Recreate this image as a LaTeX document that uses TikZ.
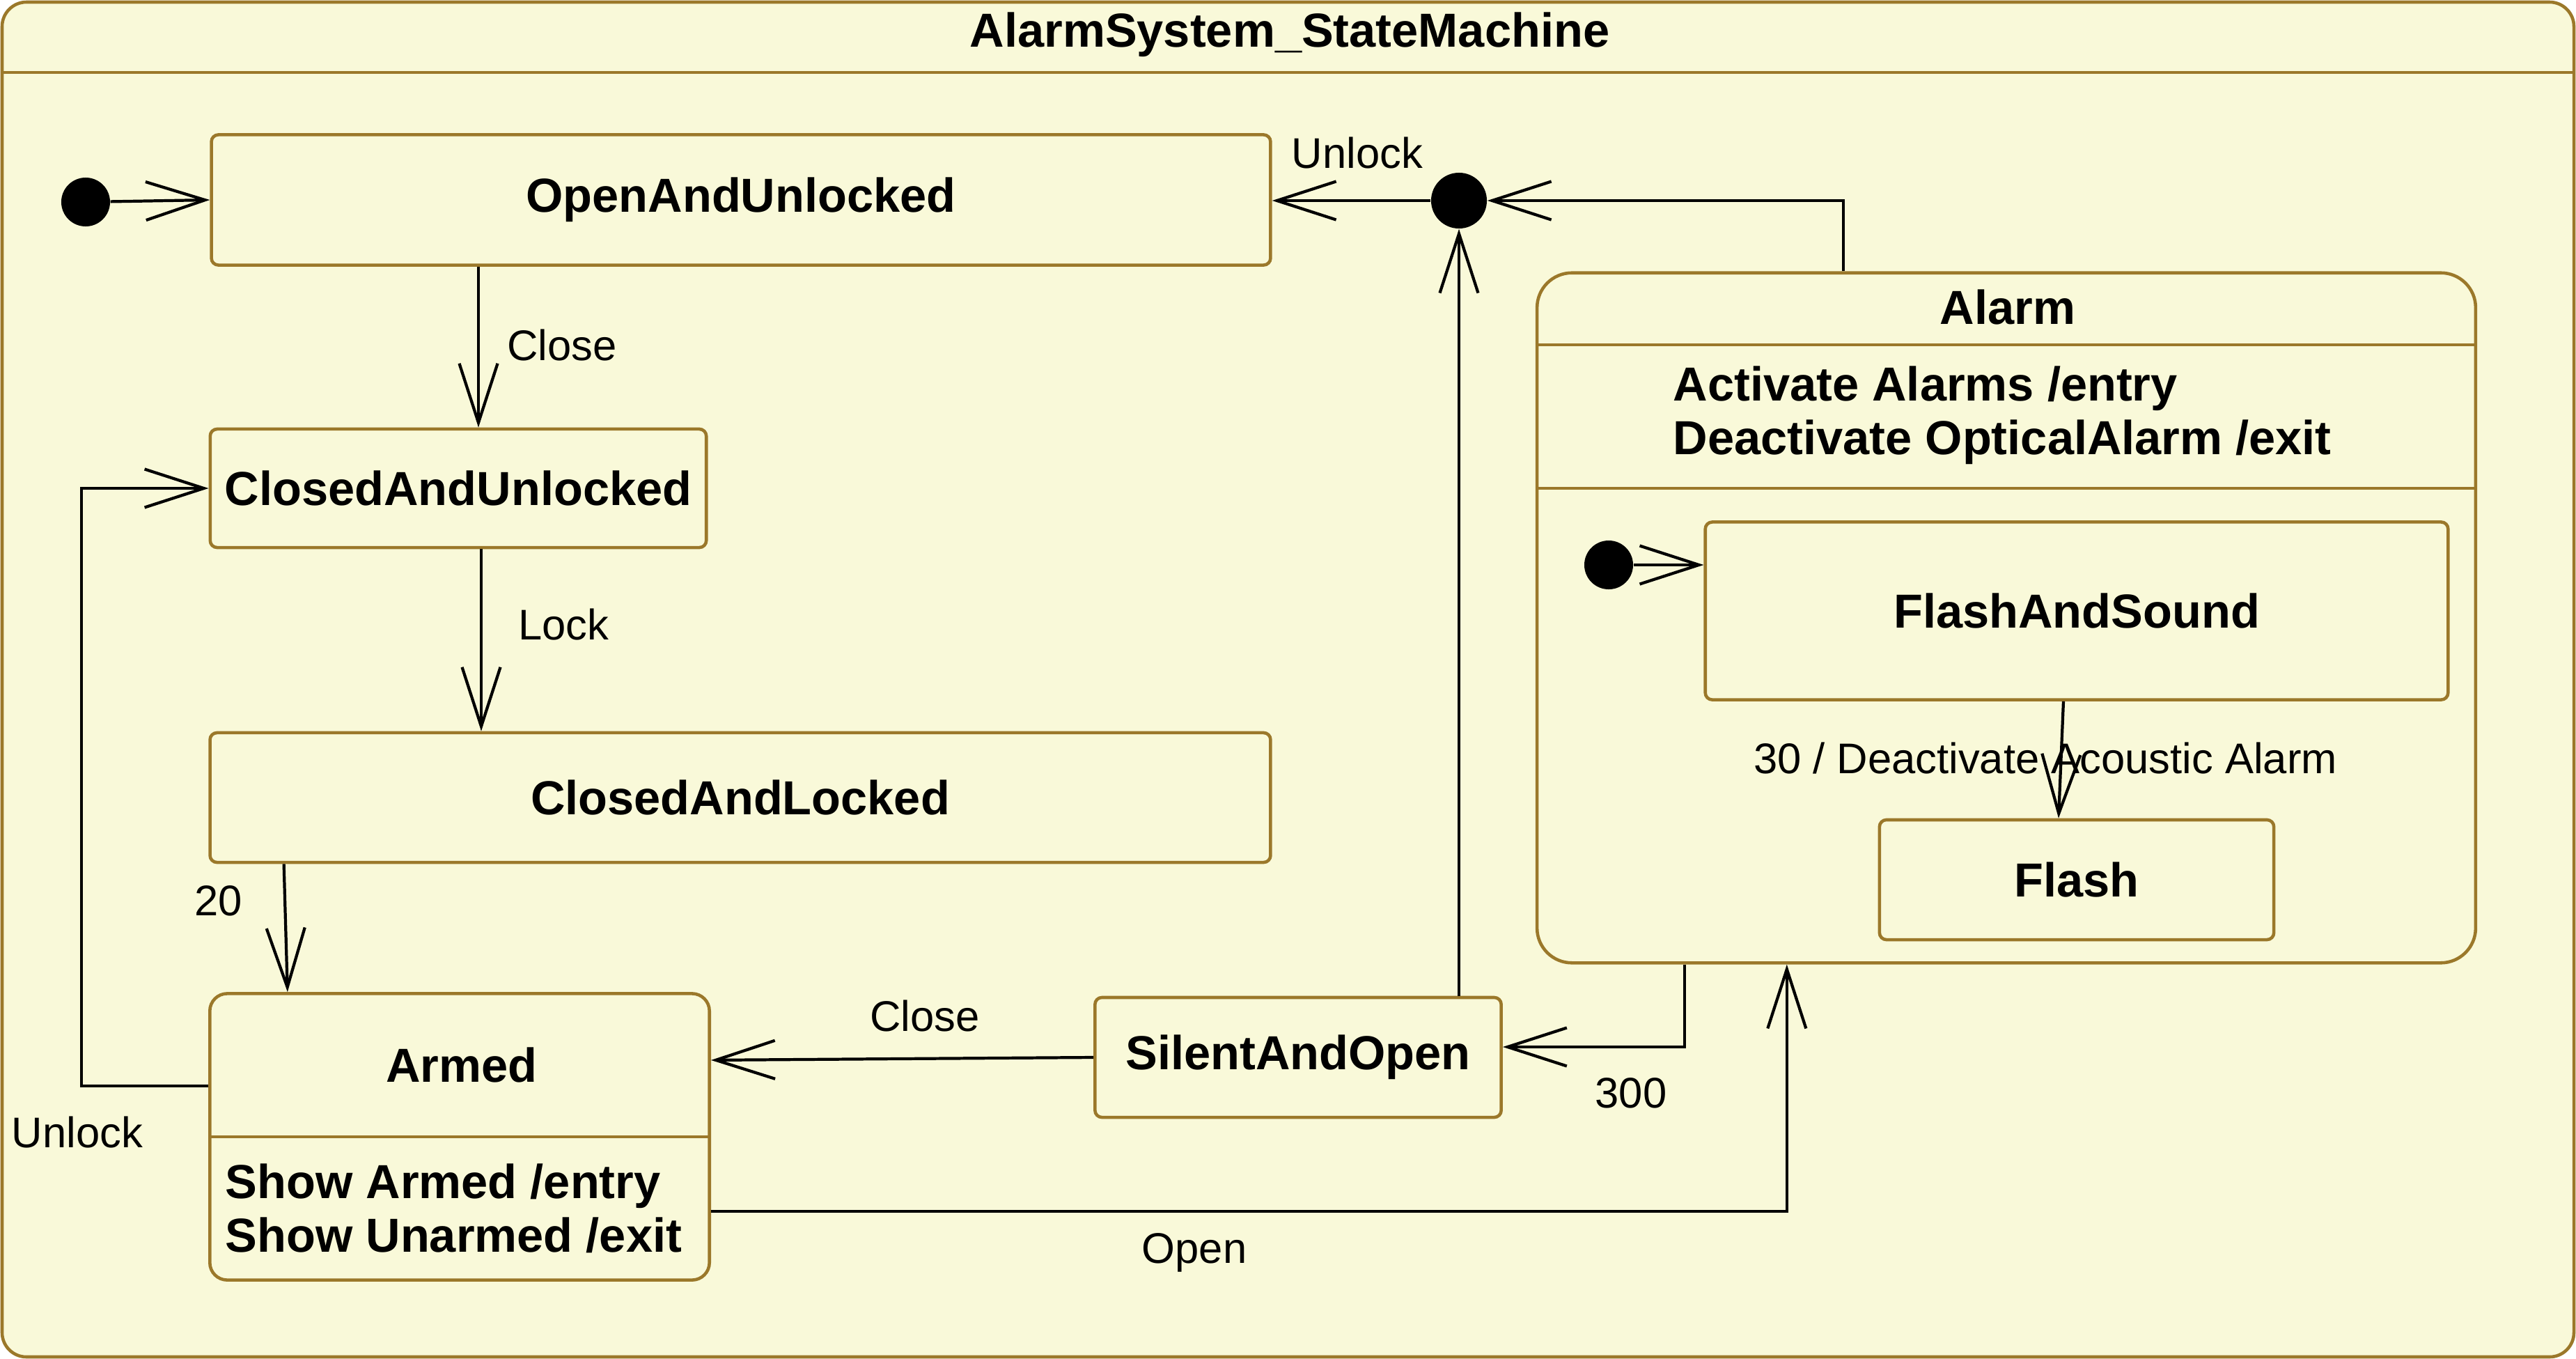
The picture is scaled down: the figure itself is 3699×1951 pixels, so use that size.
\documentclass[tikz,border=0pt]{standalone}
\usepackage{fontspec}
\setmainfont{Liberation Sans}
\usetikzlibrary{arrows.meta}
\definecolor{smfill}{RGB}{249,249,217}
\definecolor{smline}{RGB}{155,120,42}

\begin{document}
\begin{tikzpicture}[x=0.01cm, y=-0.01cm,
  state/.style={draw=smline, fill=smfill, line width=1.3pt, rounded corners=0.1cm, inner sep=0pt, font=\fontsize{19.5}{22}\selectfont\bfseries},
  bold/.style={inner sep=0pt, font=\fontsize{19.5}{22}\selectfont\bfseries},
  lbl/.style={inner sep=0pt, font=\fontsize{17.5}{21}\selectfont},
  dot/.style={circle, fill=black, inner sep=0pt, minimum size=0.7cm},
  >={Straight Barb[length=0.85cm, width=0.55cm]},
  tr/.style={->, line width=1.2pt}]
\useasboundingbox (0,0) rectangle (3699,1951);
\draw[draw=smline, fill=smfill, line width=1.3pt, rounded corners=0.35cm] (3,3) rectangle (3696,1948);
\draw[smline, line width=1.3pt] (3,104) -- (3696,104);
\node[bold] (title) at (1852,50) {AlarmSystem\_StateMachine};

\node[state, minimum width=15.2cm, minimum height=1.87cm] (ou) at (1064,287) {OpenAndUnlocked};
\node[state, minimum width=7.12cm, minimum height=1.7cm] (cu) at (658,701) {ClosedAndUnlocked};
\node[state, minimum width=15.22cm, minimum height=1.86cm] (cl) at (1063,1145) {ClosedAndLocked};
\node[state, minimum width=7.17cm, minimum height=4.11cm, rounded corners=0.25cm] (armed) at (660,1632) {};
\draw[smline, line width=1.3pt] (armed.west |- 0,1632) -- (armed.east |- 0,1632);
\node[bold] (armedname) at (663,1529) {Armed};
\node[bold, anchor=west, align=left] (armedact) at (323,1735) {Show Armed /entry\\Show Unarmed /exit};
\node[state, minimum width=5.83cm, minimum height=1.72cm] (silent) at (1864,1518) {SilentAndOpen};

\node[state, minimum width=13.47cm, minimum height=9.9cm, rounded corners=0.5cm] (alarm) at (2881,887) {};
\draw[smline, line width=1.3pt] (alarm.west |- 0,495) -- (alarm.east |- 0,495);
\draw[smline, line width=1.3pt] (alarm.west |- 0,701) -- (alarm.east |- 0,701);
\node[bold] (alarmname) at (2883,441) {Alarm};
\node[bold, anchor=west, align=left] (alarmact) at (2402,596) {Activate Alarms /entry\\Deactivate OpticalAlarm /exit};
\node[state, minimum width=10.66cm, minimum height=2.55cm] (fas) at (2982,877) {FlashAndSound};
\node[state, minimum width=5.66cm, minimum height=1.72cm] (flash) at (2982,1263) {Flash};

\node[dot] (init) at (123,290) {};
\node[dot] (initalarm) at (2310,811) {};
\node[dot, minimum size=0.8cm] (junc) at (2095,288) {};

\draw[tr] (init) -- (ou.west);
\draw[tr] (junc) -- (ou.east |- junc);
\draw[tr] ([xshift=-2.34cm]alarm.north) |- (junc);
\draw[tr] (junc |- silent.north) -- (junc);
\draw[tr] ([xshift=2.9mm]cu.north |- ou.south) -- ([xshift=2.9mm]cu.north);
\draw[tr] ([xshift=3.3mm]cu.south) -- ([xshift=3.3mm]cu.south |- cl.north);
\draw[tr] ([xshift=-6.55cm]cl.south) -- ([xshift=-2.47cm]armed.north);
\draw[tr] ([yshift=7.3mm]armed.west) -- ++(-1.82cm,0) |- (cu.west);
\draw[tr] (silent.west) -- ([yshift=1.1cm]armed.east);
\draw[tr] ([xshift=-4.62cm]alarm.south) |- ([yshift=1.5mm]silent.east);
\draw[tr] ([yshift=-1.07cm]armed.east) -| ([xshift=-3.15cm]alarm.south);
\draw[tr] (initalarm) -- (fas.west |- initalarm);
\draw[tr] ([xshift=-1.9mm]fas.south) -- ([xshift=-2.6mm]flash.north);

\node[lbl] (lunlock) at (1949,219) {Unlock};
\node[lbl] (lclose) at (807,495) {Close};
\node[lbl] (llock) at (809,896) {Lock};
\node[lbl] (ltwenty) at (314,1293) {20};
\node[lbl] (lunlockarmed) at (111,1625) {Unlock};
\node[lbl] (lclosesilent) at (1328,1458) {Close};
\node[lbl] (lthreehundred) at (2342,1569) {300};
\node[lbl] (lopen) at (1715,1798) {Open};
\node[lbl] (lthirty) at (2937,1088) {30 / Deactivate Acoustic Alarm};
\end{tikzpicture}
\end{document}
